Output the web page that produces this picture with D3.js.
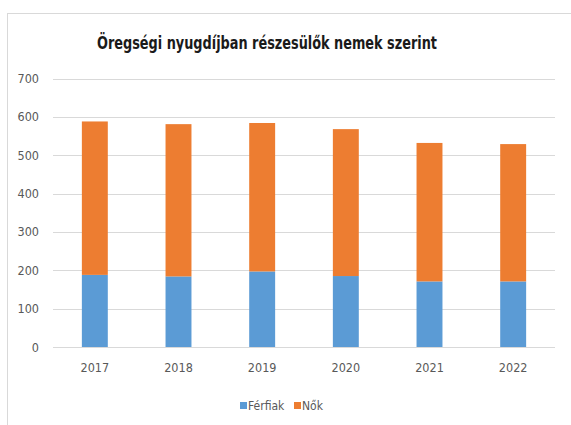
<!DOCTYPE html>
<html>
<head>
<meta charset="utf-8">
<script src="https://cdn.jsdelivr.net/npm/d3@7"></script>
<style>
  body { margin: 0; background: #fff; }
  text { font-family: "DejaVu Sans Condensed", "DejaVu Sans", sans-serif; }
</style>
</head>
<body>
<svg></svg>
<script>
const years = ['2017', '2018', '2019', '2020', '2021', '2022'];
const ferfiak = [188, 184, 197, 185, 171, 171];
const nok = [400, 397, 387, 383, 361, 358];
const seriesNames = ['Férfiak', 'Nők'];
const yTicks = [0, 100, 200, 300, 400, 500, 600, 700];

let width = 571;
let height = 425;
let colors = ['#5B9BD5', '#ED7D31'];

let svg = d3.select('svg')
    .attr('width', width)
    .attr('height', height);

// chart area frame
svg.append('rect')
    .attr('x', 7.5)
    .attr('y', 13.5)
    .attr('width', 600)
    .attr('height', 450)
    .attr('fill', '#fff')
    .attr('stroke', '#d9d9d9');

svg.append('text')
    .attr('x', 267)
    .attr('y', 49)
    .attr('text-anchor', 'middle')
    .attr('font-size', 17)
    .attr('font-weight', 'bold')
    .attr('fill', '#1a1a1a')
    .attr('font-family', '"DejaVu Sans Condensed", sans-serif')
    .attr('textLength', 340)
    .attr('lengthAdjust', 'spacingAndGlyphs')
    .text('Öregségi nyugdíjban részesülők nemek szerint');

let xScale = d3.scaleBand()
    .domain(years)
    .range([53, 555])
    .paddingInner(0.69)
    .paddingOuter(0.345);

let yScale = d3.scaleLinear()
    .domain([0, 700])
    .range([347, 78.5]);

// gridlines
svg.append('g')
    .selectAll('line')
    .data(yTicks)
    .enter()
    .append('line')
    .attr('x1', 53)
    .attr('x2', 555)
    .attr('y1', d => Math.round(yScale(d)) + 0.5)
    .attr('y2', d => Math.round(yScale(d)) + 0.5)
    .attr('stroke', '#d9d9d9');

let yAxis = d3.axisLeft(yScale).tickValues(yTicks).tickSize(0).tickPadding(0);
svg.append('g')
    .attr('transform', 'translate(39,0)')
    .call(yAxis)
    .call(g => g.select('.domain').remove())
    .selectAll('text')
    .attr('font-size', 12.5)
    .attr('fill', '#595959')
    .attr('font-family', '"DejaVu Sans Condensed", sans-serif');

let xAxis = d3.axisBottom(xScale).tickSize(0).tickPadding(0);
svg.append('g')
    .attr('transform', 'translate(0,363)')
    .call(xAxis)
    .call(g => g.select('.domain').remove())
    .selectAll('text')
    .attr('font-size', 12.5)
    .attr('fill', '#595959')
    .attr('font-family', '"DejaVu Sans Condensed", sans-serif');

let table = years.map((y, i) => ({ year: y, 'Férfiak': ferfiak[i], 'Nők': nok[i] }));
let stacked = d3.stack().keys(seriesNames)(table);

svg.append('g')
    .selectAll('g')
    .data(stacked)
    .enter()
    .append('g')
    .attr('fill', (d, i) => colors[i])
    .selectAll('rect')
    .data(d => d)
    .enter()
    .append('rect')
    .attr('x', d => xScale(d.data.year))
    .attr('width', xScale.bandwidth())
    .attr('y', d => yScale(d[1]))
    .attr('height', d => yScale(d[0]) - yScale(d[1]));

// legend
let legend = svg.append('g').attr('transform', 'translate(240,402)');
let legendX = [0, 54];
seriesNames.forEach((name, i) => {
    legend.append('rect')
        .attr('x', legendX[i])
        .attr('y', 0)
        .attr('width', 7)
        .attr('height', 7)
        .attr('fill', colors[i]);
    legend.append('text')
        .attr('x', legendX[i] + 8)
        .attr('y', 7.5)
        .attr('font-size', 12)
        .attr('fill', '#595959')
        .attr('font-family', '"DejaVu Sans Condensed", sans-serif')
        .text(name);
});
</script>
</body>
</html>
